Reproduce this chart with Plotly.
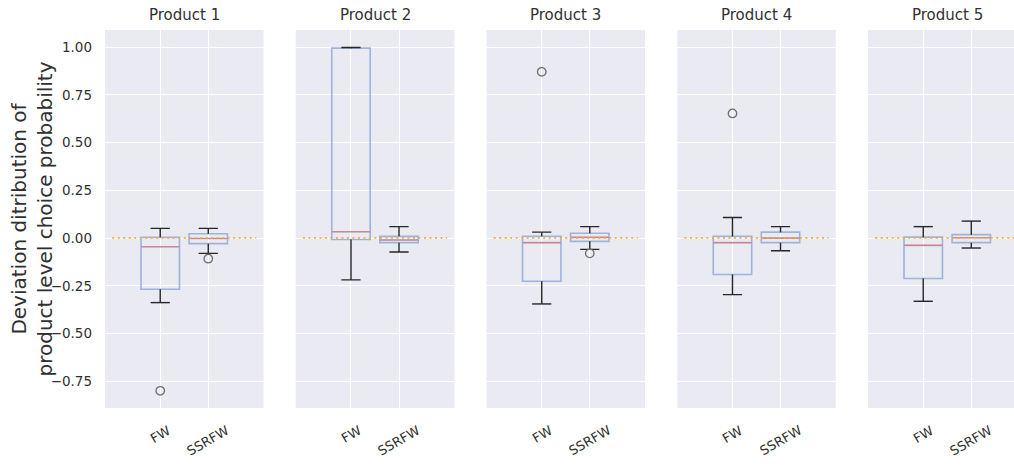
import plotly.graph_objects as go

# ---- data -------------------------------------------------------------
products = ["Product 1", "Product 2", "Product 3", "Product 4", "Product 5"]
methods = ["FW", "SSRFW"]
positions = [1, 2]

# FW box statistics per product
fw_q1 = [-0.268, -0.007, -0.226, -0.191, -0.212]
fw_median = [-0.045, 0.033, -0.024, -0.024, -0.038]
fw_q3 = [0.004, 0.995, 0.010, 0.010, 0.005]
fw_lower = [-0.338, -0.219, -0.345, -0.296, -0.331]
fw_upper = [0.051, 0.998, 0.031, 0.108, 0.060]
fw_outliers = [[-0.800], [], [0.871], [0.653], []]

# SSRFW box statistics per product
ss_q1 = [-0.029, -0.024, -0.017, -0.024, -0.024]
ss_median = [-0.002, -0.010, 0.004, 0.000, 0.002]
ss_q3 = [0.023, 0.009, 0.025, 0.031, 0.018]
ss_lower = [-0.080, -0.073, -0.059, -0.066, -0.052]
ss_upper = [0.051, 0.060, 0.060, 0.060, 0.089]
ss_outliers = [[-0.108], [], [-0.080], [], []]

# zero-deviation reference line
ref_x = [0, 3]
ref_y = [0, 0]

y_ticks = [-0.75, -0.5, -0.25, 0.0, 0.25, 0.5, 0.75, 1.0]
y_range = [-0.89, 1.09]
x_range = [-0.15, 3.15]
y_title = "Deviation ditribution of<br>product level choice probability"

# ---- style / geometry -------------------------------------------------
W, H = 1014, 466
ML, MR, MT, MB = 105, 0, 30, 58
PW, PH = W - ML - MR, H - MT - MB
panel_left = [105, 295.75, 486.5, 677.25, 868]
panel_w = 158.5
box_w = 0.8
cap_half = box_w / 4

BG = "#EAEAF2"
TXT = "#303030"
BOX_C = "#9DB2DC"
MED_C = "#DE7C80"
WHISK_C = "#262626"
OUT_C = "#707070"
REF_C = "rgba(255,168,40,0.85)"
FONT = "DejaVu Sans"

fig = go.Figure()
layout_axes = {}
annotations = []

series = [
    (fw_q1, fw_median, fw_q3, fw_lower, fw_upper, fw_outliers),
    (ss_q1, ss_median, ss_q3, ss_lower, ss_upper, ss_outliers),
]

for i, prod in enumerate(products):
    s = "" if i == 0 else str(i + 1)
    xa, ya = "x" + s, "y" + s
    left = panel_left[i]
    right = left + panel_w
    d0 = (left - ML) / PW
    d1 = min(1.0, (right - ML) / PW)
    # visible part of the data range (last panel is cut at the page edge)
    vis = (min(right, W) - left) / panel_w
    xr = [x_range[0], x_range[0] + (x_range[1] - x_range[0]) * vis]

    for j, pos in enumerate(positions):
        q1, med, q3, lo, hi, outs = (arr[i] for arr in series[j])
        common = dict(x=[pos], width=box_w, orientation="v", xaxis=xa, yaxis=ya,
                      showlegend=False, hoverinfo="skip", boxpoints=False,
                      fillcolor="rgba(0,0,0,0)", whiskerwidth=0)
        # box outline (interquartile range)
        fig.add_trace(go.Box(q1=[q1], median=[med], q3=[q3], lowerfence=[q1],
                             upperfence=[q3],
                             line=dict(color=BOX_C, width=1.6), **common))
        # median line
        fig.add_trace(go.Box(q1=[med], median=[med], q3=[med], lowerfence=[med],
                             upperfence=[med],
                             line=dict(color=MED_C, width=1.1), **common))
        # whiskers with caps
        wx = [pos, pos, None, pos - cap_half, pos + cap_half, None,
              pos, pos, None, pos - cap_half, pos + cap_half]
        wy = [q1, lo, None, lo, lo, None, q3, hi, None, hi, hi]
        fig.add_trace(go.Scatter(x=wx, y=wy, mode="lines",
                                 line=dict(color=WHISK_C, width=1.4),
                                 xaxis=xa, yaxis=ya, showlegend=False,
                                 hoverinfo="skip"))
        if outs:
            fig.add_trace(go.Scatter(x=[pos] * len(outs), y=outs, mode="markers",
                                     marker=dict(symbol="circle-open", size=8.5,
                                                 color=OUT_C, line=dict(width=1.3)),
                                     xaxis=xa, yaxis=ya, showlegend=False,
                                     hoverinfo="skip"))

    fig.add_trace(go.Scatter(x=ref_x, y=ref_y, mode="lines",
                             line=dict(color=REF_C, width=2, dash="2px,3.5px"),
                             xaxis=xa, yaxis=ya, showlegend=False, hoverinfo="skip"))

    layout_axes["xaxis" + s] = dict(
        domain=[d0, d1], range=xr, anchor=ya, tickvals=positions,
        showticklabels=False, showgrid=True, gridcolor="white", gridwidth=1,
        zeroline=False, showline=False, ticks="", fixedrange=True)
    layout_axes["yaxis" + s] = dict(
        domain=[0, 1], range=y_range, anchor=xa, tickvals=y_ticks,
        tickformat=".2f", showticklabels=(i == 0), showgrid=True,
        gridcolor="white", gridwidth=1, zeroline=False, showline=False,
        ticks="", ticklabelstandoff=12, tickfont=dict(size=13.5, color=TXT),
        **({} if i == 0 else {"matches": "y"}))

    # panel title
    annotations.append(dict(text=prod, xref="paper", yref="paper",
                            x=(left + panel_w / 2 - ML) / PW,
                            y=1 + (MT - 15.5) / PH, xanchor="center", yanchor="middle",
                            showarrow=False, font=dict(size=15, color=TXT)))
    # rotated category labels
    for pos, m in zip(positions, methods):
        annotations.append(dict(text=m, xref=xa, yref="paper", x=pos,
                                y=-(420 - (H - MB)) / PH, xanchor="center",
                                yanchor="top", textangle=-30, showarrow=False,
                                font=dict(size=13, color=TXT)))

annotations.append(dict(text=y_title, xref="paper", yref="paper",
                        x=(31.5 - ML) / PW, y=0.5, xanchor="center", yanchor="middle",
                        textangle=-90, showarrow=False,
                        font=dict(size=20, color=TXT)))

fig.update_layout(
    width=W, height=H, margin=dict(l=ML, r=MR, t=MT, b=MB, pad=0),
    plot_bgcolor=BG, paper_bgcolor="white", boxmode="overlay",
    font=dict(family=FONT, color=TXT), annotations=annotations,
    **layout_axes)

fig.write_html("out.html", config={"displayModeBar": False})
